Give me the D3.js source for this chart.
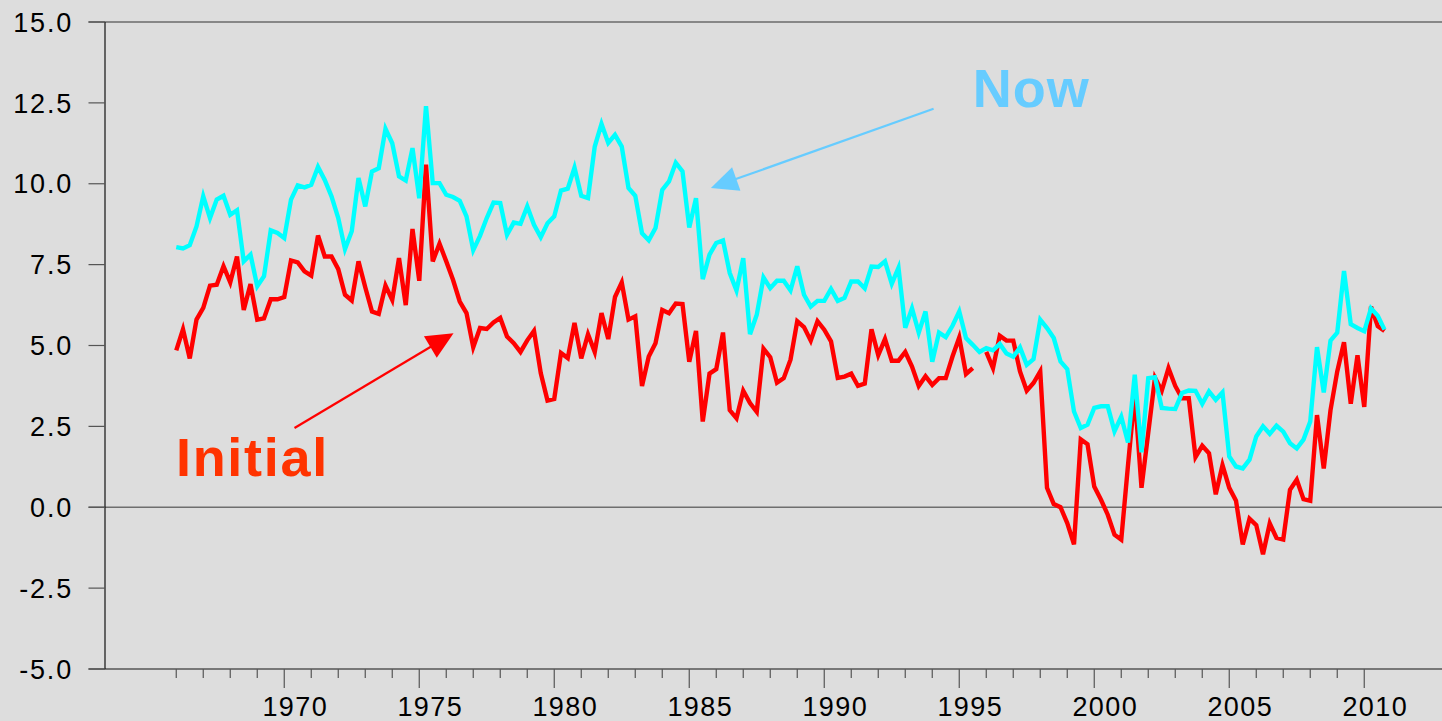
<!DOCTYPE html>
<html><head><meta charset="utf-8">
<script src="https://cdn.jsdelivr.net/npm/d3@7"></script>
<style>
html,body{margin:0;padding:0;background:#dddddd;overflow:hidden;}
svg{display:block;}
text{font-family:"Liberation Sans",Arial,Helvetica,sans-serif;}
</style></head><body>
<svg id="chart" width="1442" height="721"></svg>
<script>
// ---- data ----
const startYear = 1966;          // first quarter
const periodsPerYear = 4;        // quarterly
const nowValues = [
 8.04,8.00,8.10,8.68,9.61,8.94,9.51,9.63,9.04,9.18,
 7.60,7.81,6.83,7.14,8.56,8.48,8.32,9.51,9.95,9.89,
 9.97,10.52,10.12,9.61,8.94,7.98,8.53,10.18,9.30,10.38,
 10.48,11.70,11.25,10.23,10.10,11.10,9.55,12.40,10.02,10.02,
 9.66,9.59,9.47,8.99,7.95,8.39,8.94,9.42,9.40,8.42,
 8.80,8.76,9.30,8.73,8.35,8.78,8.99,9.79,9.85,10.50,
 9.63,9.56,11.15,11.85,11.26,11.51,11.15,9.87,9.63,8.47,
 8.25,8.63,9.81,10.07,10.65,10.38,8.65,9.55,7.05,7.81,
 8.17,8.25,7.24,6.70,7.70,5.35,5.95,7.10,6.77,7.00,
 7.00,6.70,7.45,6.57,6.20,6.38,6.38,6.75,6.38,6.47,
 6.98,6.98,6.77,7.44,7.43,7.60,6.91,7.40,5.55,6.15,
 5.40,6.05,4.50,5.40,5.26,5.61,6.05,5.23,5.02,4.80,
 4.92,4.85,5.05,4.75,4.65,4.94,4.40,4.58,5.80,5.54,
 5.23,4.51,4.27,2.96,2.45,2.55,3.07,3.12,3.12,2.35,
 2.80,2.00,4.10,1.70,3.99,4.02,3.07,3.05,3.04,3.53,
 3.61,3.60,3.20,3.58,3.32,3.55,1.57,1.26,1.20,1.47,
 2.19,2.50,2.27,2.52,2.34,1.98,1.82,2.09,2.65,4.95,
 3.55,5.15,5.40,7.30,5.66,5.54,5.44,6.15,5.92,5.49
];
const initialValues = [
 4.85,5.50,4.60,5.80,6.16,6.85,6.88,7.45,6.95,7.75,
 6.10,6.90,5.80,5.84,6.43,6.43,6.50,7.63,7.57,7.29,
 7.16,8.40,7.75,7.75,7.36,6.57,6.39,7.60,6.80,6.05,
 5.98,6.85,6.41,7.70,6.25,8.60,7.00,10.59,7.60,8.15,
 7.60,7.03,6.36,6.00,4.95,5.54,5.51,5.71,5.85,5.28,
 5.07,4.80,5.16,5.45,4.15,3.30,3.35,4.77,4.61,5.70,
 4.60,5.35,4.80,6.00,5.20,6.50,6.95,5.80,5.90,3.75,
 4.66,5.07,6.10,6.00,6.30,6.28,4.50,5.45,2.65,4.13,
 4.27,5.40,3.00,2.75,3.60,3.22,2.95,4.90,4.64,3.85,
 3.99,4.56,5.75,5.57,5.15,5.75,5.49,5.13,4.00,4.04,
 4.13,3.75,3.82,5.50,4.70,5.20,4.53,4.53,4.80,4.35,
 3.75,4.05,3.78,3.99,3.99,4.66,5.25,4.12,4.30,null,
 4.80,4.30,5.30,5.15,5.15,4.20,3.60,3.84,4.20,0.60,
 0.10,0.00,-0.49,-1.15,2.10,1.95,0.64,0.23,-0.23,-0.85,
 -1.00,1.30,3.50,0.60,2.30,4.00,3.60,4.30,3.75,3.37,
 3.37,1.55,1.90,1.67,0.40,1.30,0.60,0.20,-1.15,-0.35,
 -0.55,-1.45,-0.50,-0.95,-1.00,0.54,0.85,0.25,0.20,2.85,
 1.20,3.00,4.20,5.10,3.20,4.70,3.10,6.20,5.60,5.45
];
const yTickValues = [-5, -2.5, 0, 2.5, 5, 7.5, 10, 12.5, 15];
const xMajorTicks = [1970, 1975, 1980, 1985, 1990, 1995, 2000, 2005, 2010];
const xMinorTicks = d3.range(1966, 2011);
const seriesNames = ["Now", "Initial"];
// annotation anchors in data units [year, value]
const nowLabelAt = [1995.5, 12.36];
const nowArrowFrom = [1994.05, 12.32];
const nowArrowTo = [1985.8, 9.87];
const initialLabelAt = [1965.99, 0.97];
const initialArrowFrom = [1970.38, 2.45];
const initialArrowTo = [1976.27, 5.38];

// ---- layout ----
const W = 1442, H = 721;
const svg = d3.select("#chart");
const x = d3.scaleLinear().domain([1966, 2010]).range([176.25, 1364.25]);
const y = d3.scaleLinear().domain([-5, 15]).range([669, 22]);
const spineX = 105, tickLeft = 88.5;

svg.append("rect").attr("width", W).attr("height", H).attr("fill", "#dddddd");

// top frame line
svg.append("line").attr("x1", tickLeft).attr("x2", W).attr("y1", y(15)).attr("y2", y(15))
  .attr("stroke", "#333").attr("stroke-width", 1.2);
// zero line
svg.append("line").attr("x1", tickLeft).attr("x2", W).attr("y1", y(0)).attr("y2", y(0))
  .attr("stroke", "#6e6e6e").attr("stroke-width", 1.5);
// bottom axis line
svg.append("line").attr("x1", tickLeft).attr("x2", W).attr("y1", y(-5)).attr("y2", y(-5))
  .attr("stroke", "#555").attr("stroke-width", 1.5);
// left spine
svg.append("line").attr("x1", spineX).attr("x2", spineX).attr("y1", y(15)).attr("y2", y(-5))
  .attr("stroke", "#111").attr("stroke-width", 1.2);

// y ticks and labels
const fmtY = d => d.toFixed(1);   // plain hyphen-minus like the original
const yg = svg.append("g");
yg.selectAll("line").data(yTickValues).join("line")
  .attr("x1", tickLeft).attr("x2", spineX)
  .attr("y1", d => y(d)).attr("y2", d => y(d))
  .attr("stroke", "#555").attr("stroke-width", 1.2);
yg.selectAll("text").data(yTickValues).join("text")
  .attr("x", 73).attr("y", d => y(d)).attr("dy", "0.36em")
  .attr("text-anchor", "end").attr("font-size", 27).attr("letter-spacing", 1.8)
  .attr("fill", "#000").text(fmtY);

// x ticks
const xg = svg.append("g");
xg.selectAll("line.minor").data(xMinorTicks.filter(d => !xMajorTicks.includes(d))).join("line")
  .attr("class", "minor")
  .attr("x1", d => x(d)).attr("x2", d => x(d))
  .attr("y1", y(-5)).attr("y2", y(-5) + 9)
  .attr("stroke", "#555").attr("stroke-width", 1.2);
xg.selectAll("line.major").data(xMajorTicks).join("line")
  .attr("class", "major")
  .attr("x1", d => x(d)).attr("x2", d => x(d))
  .attr("y1", y(-5)).attr("y2", y(-5) + 19)
  .attr("stroke", "#555").attr("stroke-width", 1.2);
xg.selectAll("text").data(xMajorTicks).join("text")
  .attr("x", d => x(d) + 11).attr("y", 716)
  .attr("text-anchor", "middle").attr("font-size", 27).attr("letter-spacing", 1.4)
  .attr("fill", "#000").text(d => d);

// series lines
const toPoints = vals => vals.map((v, i) => ({ t: startYear + i / periodsPerYear, v }));
const line = d3.line().defined(d => d.v !== null).x(d => x(d.t)).y(d => y(d.v));
svg.append("path").datum(toPoints(initialValues)).attr("d", line)
  .attr("fill", "none").attr("stroke", "#ff0000").attr("stroke-width", 4.4)
  .attr("stroke-linejoin", "miter");
svg.append("path").datum(toPoints(nowValues)).attr("d", line)
  .attr("fill", "none").attr("stroke", "#00ffff").attr("stroke-width", 4.4)
  .attr("stroke-linejoin", "miter");

// arrows
function arrow(from, to, color) {
  const x1 = x(from[0]), y1 = y(from[1]), x2 = x(to[0]), y2 = y(to[1]);
  const dx = x2 - x1, dy = y2 - y1, len = Math.hypot(dx, dy);
  const ux = dx / len, uy = dy / len;
  const headLen = 27, headHalf = 12.5;
  const bx = x2 - ux * headLen, by = y2 - uy * headLen;
  svg.append("line").attr("x1", x1).attr("y1", y1).attr("x2", bx + ux * 2).attr("y2", by + uy * 2)
    .attr("stroke", color).attr("stroke-width", 2.2);
  svg.append("polygon")
    .attr("points", [[x2, y2], [bx - uy * headHalf, by + ux * headHalf], [bx + uy * headHalf, by - ux * headHalf]].map(p => p.join(",")).join(" "))
    .attr("fill", color);
}
arrow(nowArrowFrom, nowArrowTo, "#66ccff");
arrow(initialArrowFrom, initialArrowTo, "#ff0000");

// labels
svg.append("text").attr("x", x(nowLabelAt[0])).attr("y", y(nowLabelAt[1]))
  .attr("font-size", 54).attr("font-weight", "bold").attr("letter-spacing", 1)
  .attr("fill", "#66ccff").text(seriesNames[0]);
svg.append("text").attr("x", x(initialLabelAt[0])).attr("y", y(initialLabelAt[1]))
  .attr("font-size", 54).attr("font-weight", "bold").attr("letter-spacing", 1.7)
  .attr("fill", "#ff3300").text(seriesNames[1]);
</script>
</body></html>
